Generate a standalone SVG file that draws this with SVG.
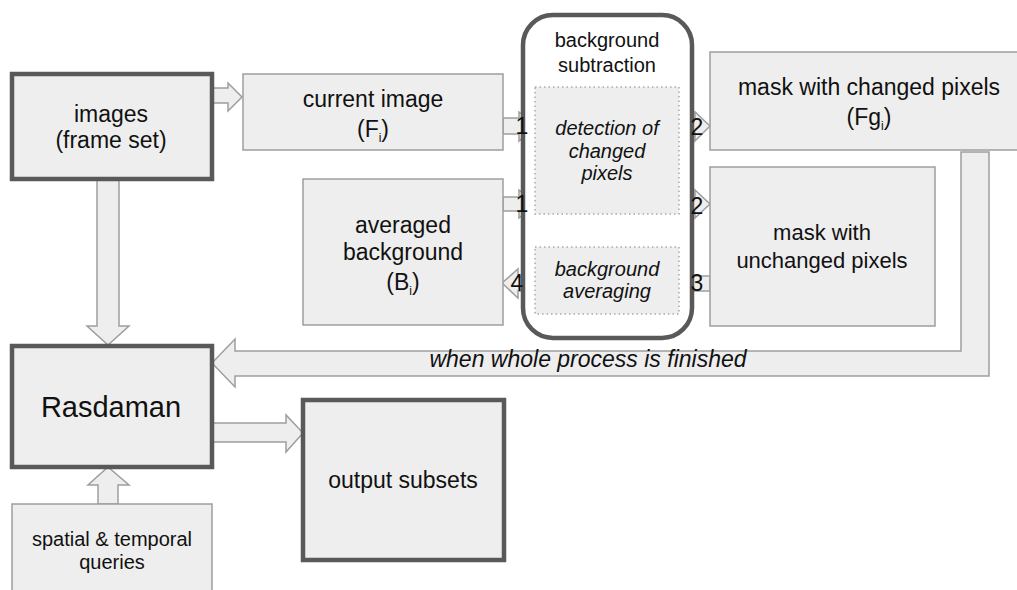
<svg xmlns="http://www.w3.org/2000/svg" width="1017" height="590" viewBox="0 0 1017 590">
<style>
.box{fill:#eeeeee;stroke:#9e9e9e;stroke-width:1.5}
.thick{fill:#eeeeee;stroke:#595959;stroke-width:4.5}
.arr{fill:#eeeeee;stroke:#9e9e9e;stroke-width:1.5;stroke-linejoin:miter}
.dot{fill:#eeeeee;stroke:#aaaaaa;stroke-width:1.5;stroke-dasharray:1.5 3}
.t{font-family:"Liberation Sans",Arial,sans-serif;fill:#111111;text-anchor:middle;font-size:23px}
.s{font-size:20px}
.it{font-style:italic;font-size:20px}
.n{font-family:"Liberation Sans",Arial,sans-serif;fill:#111111;text-anchor:middle}
.sub{font-size:12px}
</style>
<rect width="1017" height="590" fill="#ffffff"/>
<g id="connectors">
<polygon class="arr" points="212,88 228,88 228,83 242,97 228,111 228,103 212,103"/>
<polygon class="arr" points="97,180 119,180 119,326 129,326 108,345 87,326 97,326"/>
<polygon class="arr" points="98,504 98,485 88,485 108,467 129,485 118,485 118,504"/>
<polygon class="arr" points="212,423 286,423 286,415 303,433 286,452 286,442 212,442"/>
<polygon class="arr" points="961,152 989,152 989,376 235,376 235,387 212,363 235,339 235,351 961,351"/>
<polygon class="arr" points="503,118 519,118 519,112 536,126 519,141 519,134 503,134"/>
<polygon class="arr" points="503,197 519,197 519,190 536,204 519,218 519,211 503,211"/>
<polygon class="arr" points="677,119 695,119 695,112 710,126 695,141 695,133 677,133"/>
<polygon class="arr" points="677,198 695,198 695,190 710,204 695,218 695,212 677,212"/>
<polygon class="arr" points="535,277 518,277 518,269 502,283 518,298 518,291 535,291"/>
<polygon class="arr" points="710,276 691,276 691,269 677,283 691,298 691,291 710,291"/>
</g>
<g id="bgsub">
<rect x="523" y="15" width="169" height="323" rx="30" ry="30" fill="#ffffff" stroke="#595959" stroke-width="4.5"/>
<text class="t s" x="607" y="47">background</text>
<text class="t s" x="607" y="72">subtraction</text>
</g>
<g id="detection">
<rect class="dot" x="535" y="87" width="144" height="127"/>
<text class="t it" x="607" y="135">detection of</text>
<text class="t it" x="607" y="158">changed</text>
<text class="t it" x="607" y="180">pixels</text>
</g>
<g id="averaging">
<rect class="dot" x="535" y="247" width="144" height="67"/>
<text class="t it" x="607" y="276">background</text>
<text class="t it" x="607" y="298">averaging</text>
</g>
<g id="labels">
<text class="n" x="522" y="134" style="font-size:23px">1</text>
<text class="n" x="522" y="212" style="font-size:23px">1</text>
<text class="n" x="697" y="135" style="font-size:23px">2</text>
<text class="n" x="697" y="214" style="font-size:23px">2</text>
<text class="n" x="697" y="291" style="font-size:23px">3</text>
<text class="n" x="517" y="291" style="font-size:23px">4</text>
<text class="t" x="588" y="367" style="font-style:italic;font-size:23px">when whole process is finished</text>
</g>
<g id="images">
<rect class="thick" x="12" y="74" width="200" height="105"/>
<text class="t" x="111" y="122">images</text>
<text class="t" x="111" y="148">(frame set)</text>
</g>
<g id="current">
<rect class="box" x="243" y="74" width="260" height="76"/>
<text class="t" x="373" y="107">current image</text>
<text class="t" x="373" y="137">(F<tspan class="sub" dy="5">i</tspan><tspan dy="-5">)</tspan></text>
</g>
<g id="averaged">
<rect class="box" x="303" y="179" width="200" height="146"/>
<text class="t" x="403" y="233">averaged</text>
<text class="t" x="403" y="260">background</text>
<text class="t" x="403" y="290">(B<tspan class="sub" dy="5">i</tspan><tspan dy="-5">)</tspan></text>
</g>
<g id="maskchanged">
<rect class="box" x="710" y="52" width="318" height="98"/>
<text class="t" x="869" y="95">mask with changed pixels</text>
<text class="t" x="869" y="125">(Fg<tspan class="sub" dy="5">i</tspan><tspan dy="-5">)</tspan></text>
</g>
<g id="maskunchanged">
<rect class="box" x="710" y="167" width="225" height="159"/>
<text class="t" x="822" y="240" style="font-size:22px">mask with</text>
<text class="t" x="822" y="268" style="font-size:22px">unchanged pixels</text>
</g>
<g id="rasdaman">
<rect class="thick" x="12" y="346" width="200" height="121"/>
<text class="t" x="111" y="417" style="font-size:29px">Rasdaman</text>
</g>
<g id="output">
<rect class="thick" x="303" y="400" width="201" height="160"/>
<text class="t" x="403" y="488">output subsets</text>
</g>
<g id="queries">
<rect class="box" x="12" y="504" width="200" height="95"/>
<text class="t s" x="112" y="546">spatial &amp; temporal</text>
<text class="t s" x="112" y="569">queries</text>
</g>
</svg>
